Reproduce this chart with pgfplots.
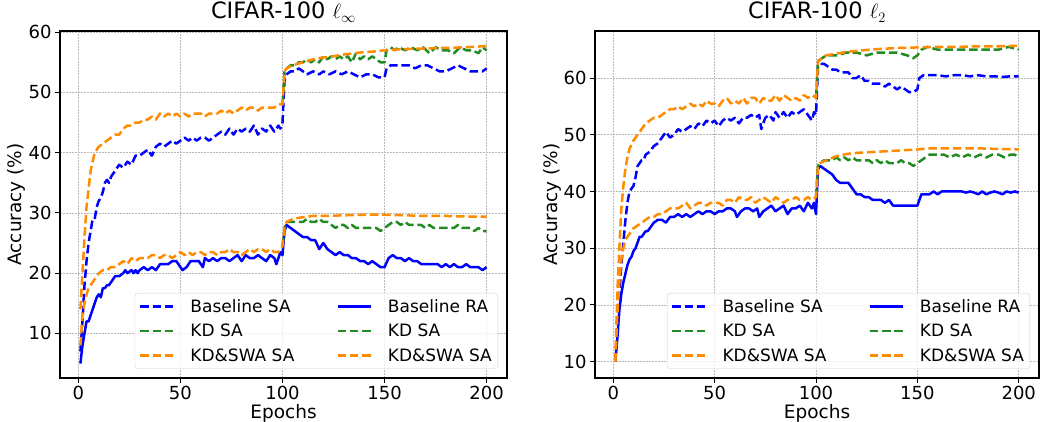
\documentclass[border=0pt]{standalone}
\usepackage{fontspec}
\setmainfont{DejaVu Sans}
\usepackage{pgfplots}
\pgfplotsset{compat=1.18}

\definecolor{mblue}{RGB}{0,0,255}
\definecolor{mgreen}{RGB}{34,139,34}
\definecolor{morange}{RGB}{255,140,0}

\pgfplotsset{
  accplot/.style={
    scale only axis,
    width=447pt, height=347pt,
    xmin=-9, xmax=210,
    xtick={0,50,100,150,200},
    ytick={10,20,30,40,50,60},
    axis line style={line width=1.1pt},
    tick align=outside,
    tick pos=left,
    major tick length=5pt,
    tick style={black, line width=1pt},
    grid=major,
    grid style={gray!55, line width=0.7pt, dash pattern=on 1.5pt off 1.5pt},
    /pgf/number format/assume math mode=true,
    ticklabel style={font=\fontsize{18}{20}\selectfont},
    xlabel={Epochs},
    ylabel={Accuracy (\%)},
    xlabel style={font=\fontsize{18.5}{20}\selectfont, at={(axis description cs:0.5,-0.117)}, anchor=base},
    ylabel style={font=\fontsize{18.5}{20}\selectfont, at={(axis description cs:-0.097,0.5)}, anchor=center, rotate=0},
    title style={font=\fontsize{22.5}{25}\selectfont, at={(axis description cs:0.5,1)}, anchor=base, yshift=6pt},
    legend columns=2,
    legend cell align=left,
    legend style={font=\fontsize{17}{19}\selectfont, draw=gray!35, rounded corners=3pt,
      fill=white, fill opacity=0.8, text opacity=1, inner xsep=4pt, inner ysep=4pt,
      row sep=6.5pt, column sep=14pt,
      /tikz/every even column/.append style={column sep=40pt}},
    legend image code/.code={\draw[#1] (0pt,0pt) -- (33pt,0pt);},
    every axis plot/.append style={line width=2.5pt, line join=round},
  },
  sa/.style={dash pattern=on 8.5pt off 3.8pt},
}

\begin{document}
\begin{tikzpicture}
\begin{axis}[accplot, at={(60pt,44pt)}, anchor=south west,
  ymin=2.6, ymax=60.2,
  title={CIFAR-100 $\ell_\infty$},
  legend style={at={(0.98,0.026)}, anchor=south east}]
% baseline SA
\addplot[mblue, sa] coordinates {
(1,7)(2,12)(3,18)(4,22)(5,25)(6,27)(7,29)(8,29)(9,31)(10,32)(11,32.5)(12,33.5)(13,35)(14,35.5)(15,35)(16,36)(17,36.5)(18,37)(19,37.5)(20,38)(22,37.5)(24,38.5)(26,38)(28,39.5)(30,39.5)(32,40)(34,40.5)(36,39.5)(38,41)(40,41.5)(42,41)(44,41.5)(46,42)(48,41.5)(50,42)(52,42.5)(54,42)(56,42.5)(58,42)(60,42.5)(62,42.5)(64,42)(66,42.5)(68,43)(70,43.5)(72,43)(74,44)(76,43)(78,44)(80,43.5)(82,44)(84,43.5)(86,44.5)(88,43)(90,44)(92,43.5)(94,44.5)(96,43.5)(98,44.5)(99,44)(100,45)(101,52)(102,53)(104,53.5)(106,53.5)(108,54)(110,53.5)(112,53)(115,53.5)(118,53)(120,53.5)(123,53)(126,53.5)(129,53)(132,53.5)(135,53)(138,52.5)(141,53)(144,53)(147,52.5)(149,52.5)(150,52.5)(151,54)(153,54.5)(156,54.5)(159,54.5)(162,54.5)(165,54)(168,54.5)(171,54.5)(174,54)(177,53.5)(180,53.5)(183,54)(186,54.5)(189,54)(192,53.5)(195,53.5)(198,53.5)(200,54)
};
\addlegendentry{Baseline SA}
% baseline RA
\addplot[mblue] coordinates {
(1,5)(2,8)(3,10)(4,12)(5,12)(6,13)(7,14)(8,15)(9,16)(10,16.5)(11,16)(12,17.5)(13,17.5)(14,18)(15,18)(16,18.5)(17,19)(18,19.5)(19,19.5)(20,19.5)(22,20)(23,20.5)(24,20)(26,20.5)(27,20)(28,20.5)(29,20)(30,20.5)(32,21)(34,20.5)(36,21)(38,20.5)(40,21.5)(42,21.5)(44,21.5)(46,22)(48,22)(50,21)(51,20.5)(53,21)(55,22)(57,22)(59,22)(61,21)(62,22.5)(64,22)(66,22.5)(68,22)(70,22.5)(72,22.5)(74,22)(76,22.5)(78,23)(80,22)(82,23)(84,22.5)(86,22.5)(88,23)(90,22.5)(92,22)(94,23)(96,22.5)(97,21.5)(98,22.5)(99,23.5)(100,23)(101,27)(102,28)(104,27.5)(106,27)(108,26.5)(110,26)(112,26)(114,25.5)(116,25.5)(118,24)(120,25)(122,24)(124,23.5)(126,23)(128,23.5)(130,23)(132,23)(134,22.5)(136,22.5)(138,22)(140,22)(142,21.5)(144,22)(146,21.5)(148,21)(150,21)(152,22.5)(154,23)(156,22.5)(158,22.5)(160,22)(162,22.5)(164,22)(166,22)(168,21.5)(170,21.5)(172,21.5)(174,21.5)(176,21.5)(178,21)(180,21.5)(182,21)(184,21.5)(186,21)(188,21)(190,21.5)(192,21)(194,21)(196,21)(198,20.5)(200,21)
};
\addlegendentry{Baseline RA}
% KD SA
\addplot[mgreen, sa] coordinates {
(100,48)(101,53.5)(102,54)(104,54.5)(106,54.5)(108,55)(110,55)(112,55.5)(114,55)(116,55.5)(118,55)(120,56)(122,55.5)(124,56)(126,55.5)(128,56)(130,55.5)(132,56)(134,55)(136,56.5)(138,55.5)(140,56)(142,55.5)(144,56)(146,55.5)(148,55)(150,55)(151,57)(153,57.5)(155,57)(157,57.5)(160,57)(163,57.5)(166,57)(169,57.5)(172,56.5)(175,57.5)(178,57)(181,57)(184,56.5)(187,57.5)(190,57)(193,57)(196,56.5)(198,57.5)(200,57)
};
\addlegendentry{KD SA}
% KD RA
\addplot[mgreen, sa] coordinates {
(100,24.5)(101,27.5)(102,28.5)(104,28.5)(106,28.5)(108,28.5)(110,28.5)(112,29)(114,28.5)(116,28.5)(118,29)(120,28.5)(122,28.5)(124,28)(126,27.5)(128,28)(130,28)(132,27.5)(134,28)(136,27.5)(138,27.5)(140,27.5)(142,27.5)(144,27.5)(146,27.5)(148,27)(150,27.5)(152,28)(154,28.5)(156,28.5)(158,28)(160,28.5)(162,28)(164,28)(166,28)(168,28)(170,27.5)(172,28)(174,27.5)(176,27.5)(178,27.5)(180,27.5)(182,27.5)(184,27.5)(186,28)(188,27.5)(190,27.5)(192,27.5)(194,27)(196,27.5)(198,27)(200,27)
};
\addlegendentry{KD SA}
% KD&SWA SA
\addplot[morange, sa] coordinates {
(1,14)(2,20)(3,26)(4,31)(5,34)(6,37)(7,38.5)(8,40)(9,40.5)(10,41)(12,41.5)(14,42)(16,42.5)(18,43)(20,43)(22,44)(24,44.5)(26,44.5)(28,45)(30,45)(32,45.5)(34,45.5)(36,46)(38,45.5)(40,46.5)(42,46)(44,46.5)(46,46)(48,46.5)(50,46)(52,46.5)(54,46)(56,46.5)(58,46.5)(60,46.5)(62,46)(64,46.5)(66,46.5)(68,46.5)(70,47)(72,46.5)(74,47)(76,46.5)(78,47)(80,47.5)(82,47)(84,47.5)(86,47.5)(88,47)(90,47.5)(92,47.5)(94,47.5)(96,47.5)(98,48)(100,48)(101,53.5)(102,54)(105,54.5)(110,55)(115,55.5)(120,55.8)(125,56)(130,56.3)(135,56.5)(140,56.7)(145,56.8)(150,57)(155,57.1)(160,57.2)(170,57.3)(180,57.4)(190,57.5)(200,57.7)
};
\addlegendentry{KD\&SWA SA}
% KD&SWA RA
\addplot[morange, sa] coordinates {
(1,8)(2,13)(3,15)(4,16.5)(5,17.5)(6,18)(7,18.5)(8,19)(9,19.5)(10,20)(12,20.5)(14,20.5)(16,21)(18,21)(20,21.5)(22,22)(24,21.5)(26,22.5)(28,22)(30,22.5)(32,22.5)(34,22.5)(36,23)(38,23)(40,22.5)(42,23)(44,23)(46,22.5)(48,23)(50,23.5)(52,23)(54,23.5)(56,23)(58,23.5)(60,23.5)(62,23)(64,23.5)(66,23.5)(68,23)(70,23.5)(72,23.5)(74,24)(76,23.5)(78,23.5)(80,23)(82,23.5)(84,24)(86,23.5)(88,24)(90,24)(92,23.5)(94,24)(96,23.5)(98,23.5)(100,24.5)(101,27.5)(102,28.5)(105,29)(110,29.3)(115,29.5)(120,29.5)(130,29.6)(140,29.7)(150,29.7)(160,29.6)(170,29.5)(180,29.5)(190,29.4)(200,29.4)
};
\addlegendentry{KD\&SWA SA}
\end{axis}

\begin{axis}[accplot, at={(595pt,44pt)}, anchor=south west, width=444pt,
  ymin=7.1, ymax=68.3,
  title={CIFAR-100 $\ell_2$},
  legend style={at={(0.98,0.026)}, anchor=south east}]
% baseline SA
\addplot[mblue, sa] coordinates {
(1,10)(2,16)(3,22)(4,27)(5,31)(6,35)(7,38)(8,40)(9,40.5)(10,41)(11,42.5)(12,44.5)(13,45)(14,45.5)(15,45.5)(16,46.5)(18,47)(20,48)(22,48.5)(24,49.5)(26,50.5)(28,49.5)(30,50)(32,51)(34,50.5)(36,51)(38,51.5)(40,51)(42,52)(44,51.5)(46,52.5)(48,52)(50,52.5)(52,51.5)(54,52.5)(56,53)(58,52.5)(60,53)(62,52)(64,53)(66,53)(68,53.5)(70,53)(72,53.5)(73,51)(75,53)(77,53.5)(79,52.5)(80,54)(82,53)(84,54)(86,53)(88,54)(90,53.5)(92,54)(94,54.5)(96,53.5)(98,52.5)(99,54)(100,53.5)(101,62)(102,62.5)(104,62.5)(106,62)(108,61.5)(110,61.5)(112,61)(114,61)(116,61)(118,60)(120,60)(122,60.5)(124,59.5)(126,59.5)(128,59)(130,59)(132,59)(134,58.5)(136,59)(138,58.5)(140,58)(142,58.5)(144,58)(146,57.5)(148,57.5)(150,58)(151,60)(153,60.5)(156,60.5)(160,60.5)(164,60.3)(168,60.5)(172,60.5)(176,60.3)(180,60.5)(184,60.3)(188,60.3)(192,60.2)(196,60.3)(200,60.3)
};
\addlegendentry{Baseline SA}
% baseline RA
\addplot[mblue] coordinates {
(1,10)(2,14)(3,19)(4,22)(5,24)(6,25.5)(7,27)(8,28)(9,28.5)(10,29.5)(11,30)(12,31)(13,32)(14,32)(15,32.5)(16,33)(17,33)(18,33.5)(19,34)(20,34.5)(22,35)(24,35)(26,34.5)(28,35.5)(30,35.5)(32,36)(34,35.5)(36,36)(38,35.5)(40,36)(42,36.5)(44,36)(46,36.5)(48,36.5)(50,36)(52,36.5)(54,36.5)(56,37)(58,37)(60,36.5)(61,35.5)(63,36.5)(65,37)(67,37)(69,36.5)(71,37)(72,35.5)(74,36.5)(76,37)(78,37.5)(80,36.5)(82,37)(84,37.5)(86,36)(88,37)(90,37)(92,37.5)(94,36.5)(96,38)(98,37)(99,38)(100,36)(101,44)(102,44.5)(104,44)(106,43.5)(108,43)(110,42)(112,41.5)(114,41.5)(116,41.5)(118,40.5)(120,39.5)(122,39.5)(124,39)(126,39)(128,38.5)(130,38.5)(132,38.5)(134,38)(136,38.5)(138,37.5)(140,37.5)(142,37.5)(144,37.5)(146,37.5)(148,37.5)(150,37.5)(151,38.5)(152,39.5)(154,39.5)(156,39.5)(158,40)(160,39.5)(162,40)(164,40)(166,40)(168,40)(170,40)(172,40)(174,39.8)(176,40)(178,39.8)(180,39.5)(182,40)(184,39.5)(186,39.8)(188,40)(190,39.8)(192,39.5)(194,40)(196,39.8)(198,40)(200,39.8)
};
\addlegendentry{Baseline RA}
% KD SA
\addplot[mgreen, sa] coordinates {
(100,56.5)(101,63)(103,63.5)(105,64)(110,64)(115,64.5)(120,64.5)(125,64)(130,64.5)(135,64.5)(140,64.5)(145,64)(148,63.5)(150,64)(152,65)(155,65.5)(160,65)(165,65)(170,65)(175,65)(180,65)(185,65)(190,65)(195,65.5)(200,65)
};
\addlegendentry{KD SA}
% KD RA
\addplot[mgreen, sa] coordinates {
(100,39)(101,44.5)(102,45)(104,45.5)(106,45.5)(108,45.5)(110,46)(112,45.5)(114,46)(116,45.5)(118,46)(120,45.5)(122,45.5)(124,45.5)(126,45.5)(128,45)(130,45.5)(132,45)(134,45.5)(136,45)(138,45)(140,45)(142,45.5)(144,45)(146,45)(148,44.5)(150,45)(152,45.5)(154,46)(156,46.5)(158,46.5)(160,46.5)(163,46.5)(166,46)(169,46.5)(172,46)(175,46.5)(178,46)(181,46.5)(184,46)(187,46.5)(190,46.5)(193,46)(196,46.5)(198,46.5)(200,46)
};
\addlegendentry{KD SA}
% KD&SWA SA
\addplot[morange, sa] coordinates {
(1,10)(2,22)(3,30)(4,37)(5,41)(6,44)(7,46)(8,47.5)(10,49)(12,50)(14,51)(16,52)(18,52.5)(20,53)(22,53)(24,53.5)(26,54)(28,54.5)(30,54.5)(32,55)(34,54.5)(36,55)(38,55.5)(40,55)(42,55.5)(44,55)(46,56)(48,55.5)(50,55.5)(52,55)(54,56)(56,56.5)(58,55.5)(60,56)(62,55.5)(64,56.5)(66,55.5)(68,56.5)(70,56.5)(72,55.5)(74,56.5)(76,56)(78,56)(80,57)(82,56)(84,57)(86,56.5)(88,56)(90,56.5)(92,56)(94,57)(96,56.5)(98,57)(100,56.5)(101,63)(103,63.5)(105,64)(110,64.3)(115,64.6)(120,64.8)(130,65.1)(140,65.3)(150,65.4)(160,65.5)(170,65.5)(180,65.6)(190,65.6)(200,65.7)
};
\addlegendentry{KD\&SWA SA}
% KD&SWA RA
\addplot[morange, sa] coordinates {
(1,10)(2,18)(3,24)(4,28)(5,30)(6,31.5)(7,32)(8,32.5)(9,33)(10,33.5)(12,34)(14,34.5)(16,35)(18,35.5)(20,35.5)(22,36)(24,36)(26,36.5)(28,37)(30,37)(32,37)(34,37.5)(36,38)(38,37)(40,37.5)(42,38)(44,38)(46,37.5)(48,38)(50,38)(52,38)(54,37.5)(56,38.5)(58,38.5)(60,38)(62,39)(64,38.5)(66,38.5)(68,39)(70,38)(72,38.5)(74,39)(76,38.5)(78,38)(80,39)(82,38.5)(84,38)(86,38.5)(88,38.5)(90,39)(92,38.5)(94,38.5)(96,39)(98,38.5)(100,39)(101,44.5)(102,45)(105,45.5)(110,46.2)(115,46.6)(120,46.8)(130,47)(140,47.2)(150,47.4)(155,47.6)(160,47.6)(170,47.6)(180,47.6)(190,47.5)(200,47.4)
};
\addlegendentry{KD\&SWA SA}
\end{axis}
\pgfresetboundingbox
\path[use as bounding box] (0,0) rectangle (1040pt,422pt);
\end{tikzpicture}
\end{document}
